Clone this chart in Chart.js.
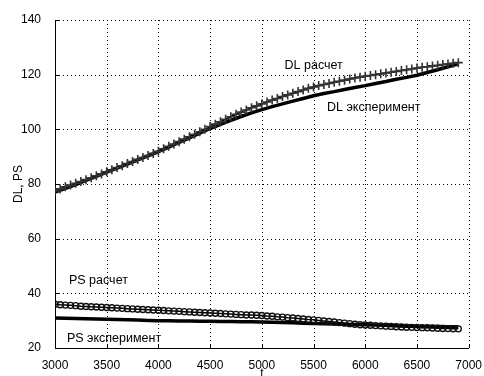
<!DOCTYPE html>
<html>
<head>
<meta charset="utf-8">
<script src="https://cdn.jsdelivr.net/npm/chart.js@4.4.1/dist/chart.umd.min.js"></script>
<style>
  html, body { margin: 0; padding: 0; background: #fff; }
  #box { width: 484px; height: 376px; }
</style>
</head>
<body>
<div id="box"><canvas id="grafik" width="484" height="376"></canvas></div>
<script>
// t для расчетных кривых (шаг 50) и для эксперимента (шаг 100)
const tRaschet = [3000, 3050, 3100, 3150, 3200, 3250, 3300, 3350, 3400, 3450,
  3500, 3550, 3600, 3650, 3700, 3750, 3800, 3850, 3900, 3950,
  4000, 4050, 4100, 4150, 4200, 4250, 4300, 4350, 4400, 4450,
  4500, 4550, 4600, 4650, 4700, 4750, 4800, 4850, 4900, 4950,
  5000, 5050, 5100, 5150, 5200, 5250, 5300, 5350, 5400, 5450,
  5500, 5550, 5600, 5650, 5700, 5750, 5800, 5850, 5900, 5950,
  6000, 6050, 6100, 6150, 6200, 6250, 6300, 6350, 6400, 6450,
  6500, 6550, 6600, 6650, 6700, 6750, 6800, 6850, 6900];

const tEksp = [3000, 3100, 3200, 3300, 3400, 3500, 3600, 3700, 3800, 3900,
  4000, 4100, 4200, 4300, 4400, 4500, 4600, 4700, 4800, 4900,
  5000, 5100, 5200, 5300, 5400, 5500, 5600, 5700, 5800, 5900,
  6000, 6100, 6200, 6300, 6400, 6500, 6600, 6700, 6800, 6900];

const dlRaschet = [77.5, 78.2, 79, 79.6, 80.3, 80.9, 81.6, 82.3, 83, 83.7,
  84.5, 85.2, 86, 86.7, 87.5, 88.2, 89, 89.7, 90.4, 91.2,
  92, 92.9, 93.8, 94.6, 95.5, 96.4, 97.3, 98.2, 99.1, 100,
  101, 101.9, 102.8, 103.7, 104.6, 105.5, 106.3, 107.1, 107.9, 108.6,
  109.3, 110, 110.7, 111.3, 112, 112.6, 113.2, 113.8, 114.4, 115,
  115.5, 116, 116.4, 116.8, 117.2, 117.6, 118, 118.4, 118.8, 119.1,
  119.4, 119.7, 120, 120.3, 120.6, 120.9, 121.2, 121.5, 121.8, 122.1,
  122.4, 122.7, 122.9, 123.2, 123.4, 123.7, 123.9, 124.2, 124.4];

const dlEksp = [77, 78.4, 79.8, 81.3, 82.8, 84.3, 85.8, 87.3, 88.8, 90.3,
  91.8, 93.5, 95.2, 96.9, 98.6, 100.3, 101.8, 103.3, 104.7, 106,
  107.2, 108.3, 109.3, 110.3, 111.3, 112.3, 113.1, 113.8, 114.6, 115.3,
  116, 116.8, 117.5, 118.3, 119, 119.8, 120.8, 121.8, 122.9, 124];

const psRaschet = [36, 35.8, 35.7, 35.6, 35.5, 35.3, 35.2, 35.1, 35, 34.9,
  34.8, 34.7, 34.6, 34.5, 34.4, 34.3, 34.2, 34.1, 34, 33.9,
  33.8, 33.7, 33.6, 33.5, 33.4, 33.3, 33.2, 33.1, 33, 32.9,
  32.8, 32.7, 32.6, 32.5, 32.4, 32.3, 32.2, 32.1, 32.1, 32,
  31.9, 31.7, 31.6, 31.4, 31.3, 31.1, 31, 30.8, 30.6, 30.4,
  30.3, 30.1, 29.9, 29.7, 29.5, 29.3, 29.1, 28.9, 28.7, 28.5,
  28.4, 28.3, 28.2, 28.1, 28, 27.9, 27.8, 27.7, 27.6, 27.55,
  27.5, 27.45, 27.4, 27.3, 27.2, 27.15, 27.1, 27.05, 27];

const psEksp = [31, 30.9, 30.8, 30.7, 30.6, 30.5, 30.4, 30.3, 30.2, 30.1,
  30, 30, 29.9, 29.9, 29.8, 29.8, 29.7, 29.7, 29.6, 29.6,
  29.5, 29.4, 29.3, 29.2, 29.1, 29, 28.9, 28.8, 28.7, 28.6,
  28.5, 28.4, 28.3, 28.2, 28.1, 28, 27.9, 27.9, 27.8, 27.8];

// подписи на графике: [текст, t, значение]
const labelsTeks = [
  ['DL расчет', 5220, 123.5],
  ['DL эксперимент', 5630, 107.8],
  ['PS расчет', 3135, 44.5],
  ['PS эксперимент', 3115, 23.3]
];

function pasangan(ts, ys) {
  return ts.map((t, i) => ({ x: t, y: ys[i] }));
}

const fontUtama = 'Arial, "Liberation Sans", sans-serif';

// пунктирная сетка по делениям шкал
const gridTitik = {
  id: 'gridTitik',
  beforeDatasetsDraw(chart) {
    const c = chart.ctx;
    const a = chart.chartArea;
    const sx = chart.scales.x;
    const sy = chart.scales.y;
    c.save();
    c.strokeStyle = '#000';
    c.lineWidth = 1;
    c.setLineDash([1, 3]);
    sx.ticks.forEach(t => {
      const px = Math.round(sx.getPixelForValue(t.value)) + 0.5;
      c.beginPath();
      c.moveTo(px, a.top);
      c.lineTo(px, a.bottom);
      c.stroke();
      // короткие деления внутрь
      c.save();
      c.setLineDash([]);
      c.beginPath();
      c.moveTo(px, a.bottom);
      c.lineTo(px, a.bottom - 4);
      c.stroke();
      c.restore();
    });
    sy.ticks.forEach(t => {
      const py = Math.round(sy.getPixelForValue(t.value)) + 0.5;
      c.beginPath();
      c.moveTo(a.left, py);
      c.lineTo(a.right, py);
      c.stroke();
      c.save();
      c.setLineDash([]);
      c.beginPath();
      c.moveTo(a.left, py);
      c.lineTo(a.left + 4, py);
      c.stroke();
      c.restore();
    });
    c.restore();
  }
};

const tulisLabel = {
  id: 'tulisLabel',
  afterDatasetsDraw(chart) {
    const c = chart.ctx;
    const sx = chart.scales.x;
    const sy = chart.scales.y;
    c.save();
    c.fillStyle = '#000';
    c.font = '12.5px ' + fontUtama;
    c.textBaseline = 'middle';
    c.textAlign = 'left';
    labelsTeks.forEach(l => {
      c.fillText(l[0], sx.getPixelForValue(l[1]), sy.getPixelForValue(l[2]));
    });
    c.restore();
  }
};

const ctx = document.getElementById('grafik').getContext('2d');

const chart = new Chart(ctx, {
  type: 'line',
  data: {
    datasets: [
      {
        label: 'DL расчет',
        data: pasangan(tRaschet, dlRaschet),
        borderColor: '#000',
        borderWidth: 1.5,
        pointStyle: 'cross',
        pointRadius: 4.5,
        pointBorderColor: '#333',
        pointBorderWidth: 1.6
      },
      {
        label: 'DL эксперимент',
        data: pasangan(tEksp, dlEksp),
        borderColor: '#000',
        borderWidth: 3.5,
        pointRadius: 0
      },
      {
        label: 'PS расчет',
        data: pasangan(tRaschet, psRaschet),
        borderColor: '#000',
        borderWidth: 1.5,
        pointStyle: 'circle',
        pointRadius: 3,
        pointBackgroundColor: 'rgba(0,0,0,0)',
        pointBorderColor: '#111',
        pointBorderWidth: 1.4
      },
      {
        label: 'PS эксперимент',
        data: pasangan(tEksp, psEksp),
        borderColor: '#000',
        borderWidth: 3.5,
        pointRadius: 0
      }
    ]
  },
  options: {
    responsive: false,
    animation: false,
    layout: { padding: { top: 20, right: 13, left: 0, bottom: 0 } },
    plugins: {
      legend: { display: false },
      tooltip: { enabled: false }
    },
    scales: {
      x: {
        type: 'linear',
        min: 3000,
        max: 7000,
        ticks: {
          stepSize: 500, color: '#000', padding: 2,
          font: { size: 12, family: fontUtama },
          callback: v => String(v)
        },
        grid: { display: false },
        border: { display: true, color: '#000', width: 1 },
        title: { display: true, text: 't', color: '#000', padding: { top: 0, bottom: -5 }, font: { size: 12, family: fontUtama } },
        afterFit(s) { s.height = 28; }
      },
      y: {
        min: 20,
        max: 140,
        ticks: {
          stepSize: 20, color: '#000', padding: 6,
          font: { size: 12, family: fontUtama },
          callback: v => String(v)
        },
        grid: { display: false },
        border: { display: true, color: '#000', width: 1 },
        title: { display: true, text: 'DL, PS', color: '#000', padding: { top: 11, bottom: 0 }, font: { size: 12, family: fontUtama } },
        afterFit(s) { s.width = 55; }
      }
    }
  },
  plugins: [gridTitik, tulisLabel]
});
</script>
</body>
</html>
